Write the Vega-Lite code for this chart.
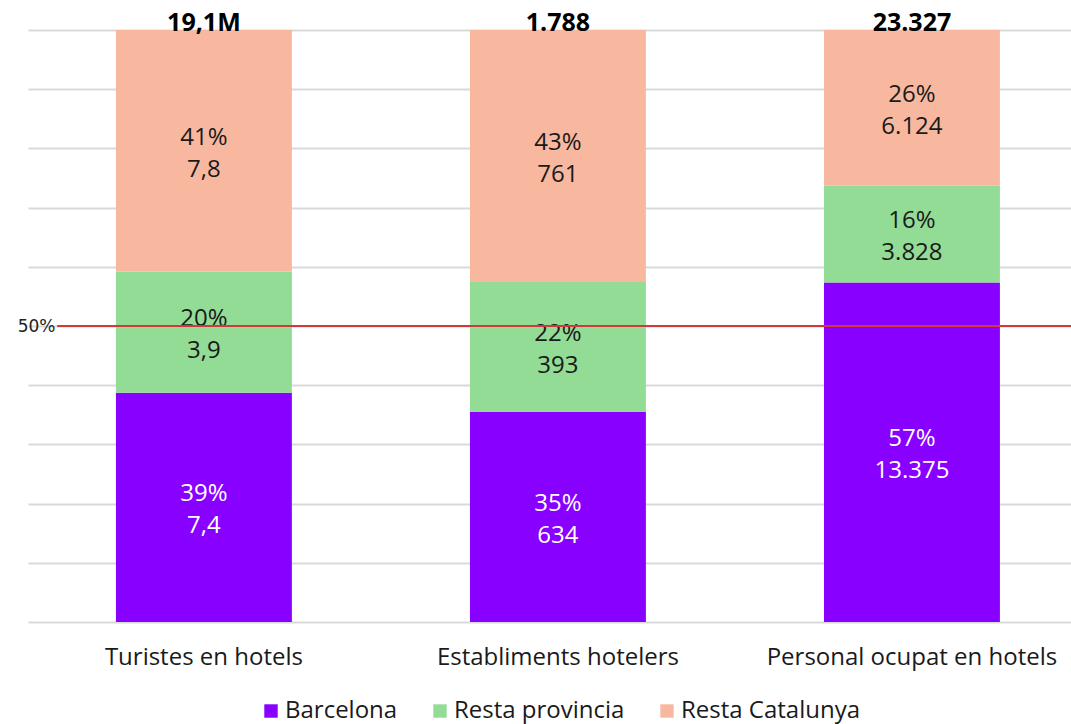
{
  "$schema": "https://vega.github.io/schema/vega-lite/v6.json",
  "autosize": {"type": "none"},
  "width": 1043,
  "height": 592,
  "padding": {"left": 28, "top": 30, "right": 0, "bottom": 102},
  "background": "white",
  "config": {
    "font": "Open Sans",
    "view": {"stroke": null},
    "axis": {"labelFont": "Open Sans"},
    "legend": {"labelFont": "Open Sans"}
  },
  "data": {
    "values": [
      {"cat": "Turistes en hotels", "region": "Barcelona", "ord": 1, "value": 7.4, "pct": "39%", "lab": "7,4", "total": "19,1M"},
      {"cat": "Turistes en hotels", "region": "Resta provincia", "ord": 2, "value": 3.9, "pct": "20%", "lab": "3,9", "total": "19,1M"},
      {"cat": "Turistes en hotels", "region": "Resta Catalunya", "ord": 3, "value": 7.8, "pct": "41%", "lab": "7,8", "total": "19,1M"},
      {"cat": "Establiments hotelers", "region": "Barcelona", "ord": 1, "value": 634, "pct": "35%", "lab": "634", "total": "1.788"},
      {"cat": "Establiments hotelers", "region": "Resta provincia", "ord": 2, "value": 393, "pct": "22%", "lab": "393", "total": "1.788"},
      {"cat": "Establiments hotelers", "region": "Resta Catalunya", "ord": 3, "value": 761, "pct": "43%", "lab": "761", "total": "1.788"},
      {"cat": "Personal ocupat en hotels", "region": "Barcelona", "ord": 1, "value": 13375, "pct": "57%", "lab": "13.375", "total": "23.327"},
      {"cat": "Personal ocupat en hotels", "region": "Resta provincia", "ord": 2, "value": 3828, "pct": "16%", "lab": "3.828", "total": "23.327"},
      {"cat": "Personal ocupat en hotels", "region": "Resta Catalunya", "ord": 3, "value": 6124, "pct": "26%", "lab": "6.124", "total": "23.327"}
    ]
  },
  "layer": [
    {
      "encoding": {
        "x": {
          "field": "cat", "type": "nominal", "sort": null,
          "scale": {"paddingInner": 0.503, "paddingOuter": 0.2246, "align": 0.553},
          "axis": {"title": null, "labelAngle": 0, "ticks": false, "domain": false, "labelFontSize": 24, "labelColor": "#1a1a1a", "labelPadding": 23, "labelLimit": 400}
        }
      },
      "layer": [
        {
          "mark": {"type": "bar"},
          "encoding": {
            "y": {
              "field": "value", "type": "quantitative", "aggregate": "sum", "stack": "normalize",
              "scale": {"domain": [0, 1]},
              "axis": {
                "title": null, "values": [0, 0.1, 0.2, 0.3, 0.4, 0.5, 0.6, 0.7, 0.8, 0.9, 1],
                "labelExpr": "datum.value == 0.5 ? '50%' : ''",
                "ticks": false, "tickSize": 0, "domain": false, "labelPadding": -27,
                "labelFont": "DejaVu Sans", "labelFontSize": 17, "labelColor": "#222",
                "gridColor": "#d9d9d9", "gridWidth": 2
              }
            },
            "order": {"field": "ord"},
            "color": {
              "field": "region", "type": "nominal",
              "scale": {"domain": ["Barcelona", "Resta provincia", "Resta Catalunya"], "range": ["#8800ff", "#92dc96", "#f8b8a0"]},
              "legend": {
                "title": null, "orient": "none", "legendX": 231, "legendY": 669, "direction": "horizontal",
                "symbolType": "square", "symbolSize": 180, "symbolStrokeWidth": 0, "symbolOpacity": 1,
                "labelFontSize": 24, "labelColor": "#1a1a1a", "columnPadding": 30, "labelOffset": 2, "labelLimit": 400
              }
            }
          }
        },
        {
          "mark": {"type": "text", "fontSize": 24, "dy": -13, "baseline": "middle"},
          "encoding": {
            "y": {"field": "value", "type": "quantitative", "aggregate": "sum", "stack": "normalize", "bandPosition": 0.5},
            "order": {"field": "ord"},
            "detail": {"field": "region"},
            "text": {"field": "pct"},
            "color": {"condition": {"test": "datum.region === 'Barcelona'", "value": "white"}, "value": "#1a1a1a"}
          }
        },
        {
          "mark": {"type": "text", "fontSize": 24, "dy": 19, "baseline": "middle"},
          "encoding": {
            "y": {"field": "value", "type": "quantitative", "aggregate": "sum", "stack": "normalize", "bandPosition": 0.5},
            "order": {"field": "ord"},
            "detail": {"field": "region"},
            "text": {"field": "lab"},
            "color": {"condition": {"test": "datum.region === 'Barcelona'", "value": "white"}, "value": "#1a1a1a"}
          }
        },
        {
          "transform": [{"filter": "datum.ord === 1"}],
          "mark": {"type": "text", "fontSize": 25, "fontWeight": "bold", "baseline": "alphabetic", "dy": 1, "color": "#000"},
          "encoding": {
            "y": {"datum": 1, "type": "quantitative"},
            "text": {"field": "total"}
          }
        }
      ]
    },
    {
      "data": {"values": [{"ref": "50%"}]},
      "mark": {"type": "rule", "color": "#d03a3a", "strokeWidth": 2},
      "encoding": {
        "x": {"datum": 0.028, "type": "quantitative", "scale": {"domain": [0, 1]}, "axis": null},
        "x2": {"datum": 1},
        "y": {"datum": 0.5, "type": "quantitative"}
      }
    }
  ],
  "resolve": {"scale": {"x": "independent"}}
}
